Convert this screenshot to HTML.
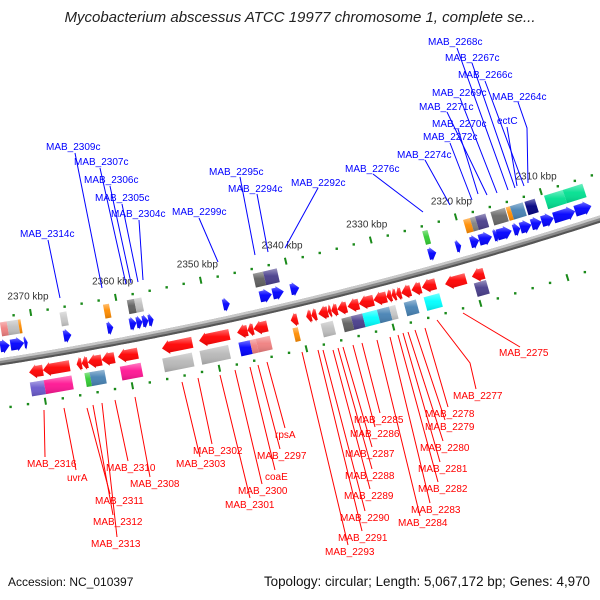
<!DOCTYPE html>
<html><head><meta charset="utf-8"><style>
html,body{margin:0;padding:0;background:#fff;}
svg{display:block;font-family:"Liberation Sans",sans-serif;}
</style></head><body>
<svg id="map" width="600" height="600" viewBox="0 0 600 600">
<defs>
<linearGradient id="shine" x1="0" y1="0" x2="0" y2="1">
<stop offset="0" stop-color="#fff" stop-opacity="0.45"/>
<stop offset="0.45" stop-color="#fff" stop-opacity="0.05"/>
<stop offset="1" stop-color="#000" stop-opacity="0.15"/>
</linearGradient>
</defs>
<text x="300" y="22" text-anchor="middle" font-size="15" font-style="italic" fill="#222">Mycobacterium abscessus ATCC 19977 chromosome 1, complete se...</text>
<g id="ring"></g>
<g id="backbone"></g>
<g id="genes"></g>
<g id="leaders"></g>
<text x="8" y="586" font-size="12" fill="#111">Accession: NC_010397</text>
<text x="590" y="586" font-size="13.4" fill="#111" text-anchor="end">Topology: circular; Length: 5,067,172 bp; Genes: 4,970</text>
</svg>
<script>
// ---- data (kbp) ----
const fwdGenes = [[2374.1,2373.0],[2372.9,2371.3],[2371.3,2370.9],[2366.7,2365.8],[2361.6,2360.9],[2359.0,2358.2],[2358.2,2357.5],[2357.5,2356.8],[2356.8,2356.2],[2348.1,2347.3],[2343.8,2342.4],[2342.3,2341.0],[2340.2,2339.2],[2324.1,2323.2],[2320.9,2320.3],[2319.2,2318.2],[2318.2,2316.7],[2316.5,2315.9],[2316.1,2314.4],[2314.2,2313.4],[2313.4,2312.1],[2312.1,2310.9],[2310.9,2309.5],[2309.5,2307.0],[2307.0,2305.1]];
const revGenes = [[2371.3,2369.7],[2369.7,2366.6],[2365.8,2365.2],[2365.2,2364.5],[2364.5,2362.9],[2362.9,2361.4],[2361.0,2358.7],[2355.9,2352.4],[2351.6,2348.1],[2347.2,2346.0],[2346.0,2345.3],[2345.3,2343.7],[2341.0,2340.2],[2339.2,2338.6],[2338.6,2338.0],[2337.8,2336.7],[2336.7,2336.3],[2336.3,2335.6],[2335.6,2334.5],[2334.4,2333.1],[2333.1,2331.4],[2331.4,2329.9],[2329.9,2329.3],[2329.3,2328.8],[2328.8,2328.2],[2328.2,2327.1],[2327.0,2325.9],[2325.8,2324.2],[2323.2,2320.8],[2320.1,2318.7]];
const topBoxes = [[2373.7,2372.9],[2372.9,2371.6],[2371.6,2371.3],[2366.7,2365.9],[2361.6,2360.9],[2358.8,2357.95],[2357.95,2357.1],[2344.0,2342.8],[2342.8,2341.2],[2324.1,2323.5],[2319.3,2318.5],[2318.5,2317.9],[2317.9,2316.7],[2316.1,2314.4],[2314.3,2313.8],[2313.8,2312.3],[2312.1,2310.9],[2309.8,2307.6],[2307.6,2305.3]];
const topColors = ["#f08080","#c0c0c0","#ff8c00","#c8c8c8","#ff8c00","#606060","#c0c0c0","#606060","#483d8b","#32cd32","#ff8c00","#808080","#483d8b","#696969","#ff8c00","#4682b4","#000080","#00e090","#00e090"];
const botBoxes = [[2371.4,2369.8],[2369.8,2366.6],[2365.1,2364.5],[2364.5,2362.8],[2361.0,2358.6],[2356.1,2352.7],[2351.8,2348.5],[2347.3,2346.0],[2346.0,2345.3],[2345.3,2343.7],[2341.0,2340.4],[2337.8,2336.4],[2335.4,2334.3],[2334.3,2333.0],[2333.0,2331.3],[2331.3,2329.9],[2329.9,2329.2],[2328.2,2326.8],[2325.9,2324.1],[2320.1,2318.7]];
const botColors = ["#6a5acd","#ff1493","#32cd32","#4682b4","#ff1493","#b8b8b8","#b8b8b8","#0000ff","#f08080","#f08080","#ff8c00","#c0c0c0","#606060","#483d8b","#00ffff","#4682b4","#c8c8c8","#4682b4","#00ffff","#483d8b"];
const tickKbp = [2370,2360,2350,2340,2330,2320,2310];
const blueLabels = [
 ["MAB_2268c",428,45,[[457,48],[508,190]]],["MAB_2267c",445,61,[[472,63],[515,188]]],["MAB_2266c",458,78,[[485,81],[524,186]]],
 ["MAB_2269c",432,96,[[460,98],[497,193]]],["MAB_2264c",492,100,[[518,102],[527,128],[528,183]]],["MAB_2271c",419,110,[[447,112],[487,195]]],
 ["ectC",497,124,[[507,127],[517,186]]],["MAB_2270c",432,127,[[458,129],[478,194]]],["MAB_2272c",423,140,[[450,143],[472,200]]],
 ["MAB_2274c",397,158,[[425,160],[450,205]]],["MAB_2276c",345,172,[[373,174],[423,212]]],["MAB_2292c",291,186,[[318,188],[285,248]]],
 ["MAB_2295c",209,175,[[240,177],[255,255]]],["MAB_2294c",228,192,[[257,194],[268,252]]],["MAB_2299c",172,215,[[199,218],[218,262]]],
 ["MAB_2309c",46,150,[[75,153],[102,288]]],["MAB_2307c",74,165,[[100,168],[126,284]]],["MAB_2306c",84,183,[[110,186],[131,283]]],
 ["MAB_2305c",95,201,[[122,204],[138,282]]],["MAB_2304c",111,217,[[139,220],[143,280]]],["MAB_2314c",20,237,[[48,240],[60,298]]]];
const redLabels = [
 ["MAB_2316",27,467,[[44,410],[45,457]]],["uvrA",67,481,[[64,408],[76,470]]],["MAB_2310",106,471,[[115,400],[128,461]]],
 ["MAB_2308",130,487,[[135,397],[150,477]]],["MAB_2311",95,504,[[87,408],[110,494]]],["MAB_2312",93,525,[[93,405],[113,515]]],
 ["MAB_2313",91,547,[[102,403],[117,537]]],["MAB_2302",193,454,[[198,378],[212,444]]],["MAB_2303",176,467,[[182,382],[200,457]]],
 ["rpsA",275,438,[[267,362],[285,428]]],["MAB_2297",257,459,[[258,365],[280,449]]],["coaE",265,480,[[250,367],[275,470]]],
 ["MAB_2300",238,494,[[235,370],[262,484]]],["MAB_2301",225,508,[[220,375],[250,498]]],["MAB_2285",354,423,[[362,343],[380,413]]],
 ["MAB_2286",350,437,[[353,345],[375,427]]],["MAB_2287",345,457,[[343,347],[372,447]]],["MAB_2288",345,479,[[338,348],[372,469]]],
 ["MAB_2289",344,499,[[333,350],[370,489]]],["MAB_2290",340,521,[[323,350],[365,511]]],["MAB_2291",338,541,[[318,350],[362,531]]],
 ["MAB_2293",325,555,[[302,352],[348,545]]],["MAB_2278",425,417,[[425,328],[448,407]]],["MAB_2279",425,430,[[415,330],[445,420]]],
 ["MAB_2280",420,451,[[408,332],[443,441]]],["MAB_2281",418,472,[[403,333],[440,462]]],["MAB_2282",418,492,[[398,335],[438,482]]],
 ["MAB_2283",411,513,[[390,337],[430,503]]],["MAB_2284",398,526,[[377,340],[420,516]]],["MAB_2277",453,399,[[437,320],[470,363],[476,389]]],
 ["MAB_2275",499,356,[[463,313],[520,347]]]];

// ---- geometry: backbone arc ----
const NS="http://www.w3.org/2000/svg";
const A=[0,362],B=[300,303],C=[600,219];
function circ(a,b,c){const d=2*(a[0]*(b[1]-c[1])+b[0]*(c[1]-a[1])+c[0]*(a[1]-b[1]));
 const a2=a[0]*a[0]+a[1]*a[1],b2=b[0]*b[0]+b[1]*b[1],c2=c[0]*c[0]+c[1]*c[1];
 const ux=(a2*(b[1]-c[1])+b2*(c[1]-a[1])+c2*(a[1]-b[1]))/d, uy=(a2*(c[0]-b[0])+b2*(a[0]-c[0])+c2*(b[0]-a[0]))/d;
 return [ux,uy,Math.hypot(a[0]-ux,a[1]-uy)];}
const [CX,CY,R]=circ(A,B,C);
const KBP0=2374.4, PXK=8.6;
function xOf(k){return (KBP0-k)*PXK;}
function P(k,o){const x=xOf(k);const c=(x-CX)/R;const s=Math.sqrt(Math.max(0,1-c*c));
 const sgn=(A[1]>CY)?1:-1; const cs=c, sn=sgn*s; const r=R+o*sgn;
 return [CX+r*cs, CY+r*sn];}
function add(parent,tag,attrs){const e=document.createElementNS(NS,tag);for(const k in attrs)e.setAttribute(k,attrs[k]);parent.appendChild(e);return e;}
const pt=p=>p[0].toFixed(1)+","+p[1].toFixed(1);

// backbone
const bb=document.getElementById('backbone');
function bandPath(o1,o2){let d="";for(let k=2375.5;k>=2303;k-=0.5){d+=(d?"L":"M")+pt(P(k,o1));}
 for(let k=2303;k<=2375.5;k+=0.5){d+="L"+pt(P(k,o2));}return d+"Z";}
let e=add(bb,'path',{d:bandPath(-3.5,3.5),fill:'#8a8a8a'});


e=add(bb,'path',{d:bandPath(-3.5,-1),fill:'#c8c8c8'});


e=add(bb,'path',{d:bandPath(1.5,3.5),fill:'#555'});



// tick rings
const ring=document.getElementById('ring');
for(const o of [-44,46]){
 for(let k=2374;k>=2302;k-=2){
  if(k%10===0){const q1=P(k,o-3.5),q2=P(k,o+3.5);
   e=add(ring,'line',{x1:q1[0],y1:q1[1],x2:q2[0],y2:q2[1],stroke:'#1a8a1a','stroke-width':2});
   
   
  } else {const q=P(k,o);
   e=add(ring,'rect',{x:q[0]-1.2,y:q[1]-1.2,width:2.4,height:2.4,fill:'#1a8a1a'});
   
   }
 }
}
tickKbp.forEach(k=>{const q=P(k,-60);
 e=add(ring,'text',{x:q[0],y:q[1]+3,'text-anchor':'middle','font-size':10,fill:'#333'});
 e.textContent=k+" kbp";
 
 });

// genes
const gg=document.getElementById('genes');
function arrow(k1,k2,o,dir,color,name){
 const len=xOf(k2)-xOf(k1); const head=Math.min(7,len*0.7); const hb=5.5,hh=7;
 let pts;
 if(dir>0){const kh=k2+head/PXK;
  pts=[P(k1,o-hb),P(kh,o-hb),P(kh,o-hh),P(k2,o),P(kh,o+hh),P(kh,o+hb),P(k1,o+hb)];}
 else{const kh=k1-head/PXK;
  pts=[P(k2,o-hb),P(kh,o-hb),P(kh,o-hh),P(k1,o),P(kh,o+hh),P(kh,o+hb),P(k2,o+hb)];}
 const d="M"+pts.map(pt).join("L")+"Z";
 let g=add(gg,'path',{d:d,fill:color});
 
 
 g=add(gg,'path',{d:d,fill:'url(#shine)'});
 
 
}
function box(k1,k2,o,h,color,name){
 const pts=[P(k1,o-h/2),P(k2,o-h/2),P(k2,o+h/2),P(k1,o+h/2)];const d="M"+pts.map(pt).join("L")+"Z";
 let g=add(gg,'path',{d:d,fill:color});
 
 
 g=add(gg,'path',{d:d,fill:'url(#shine)'});
 
 
}
fwdGenes.forEach(g=>arrow(g[0],g[1],-15,1,'#0000ff','forward-gene'));
revGenes.forEach((g,i)=>arrow(g[0],g[1],i>=revGenes.length-2?18:15,-1,'#ff0000','reverse-gene'));
topBoxes.forEach((b,i)=>box(b[0],b[1],-32,14,topColors[i],'forward-feature'));
botBoxes.forEach((b,i)=>box(b[0],b[1],i===10?30:32,14,botColors[i],'reverse-feature'));

// labels
const lg=document.getElementById('leaders');
function labels(list,color,name){list.forEach(L=>{
 e=add(lg,'polyline',{points:L[3].map(p=>p.join(",")).join(" "),fill:'none',stroke:color,'stroke-width':1});
 
 
 e=add(lg,'text',{x:L[1],y:L[2],'font-size':10,fill:color});
 e.textContent=L[0];
 
 });}
labels(blueLabels,'#0000ff','forward-gene-label');
labels(redLabels,'#ff0000','reverse-gene-label');
</script>
</body></html>
